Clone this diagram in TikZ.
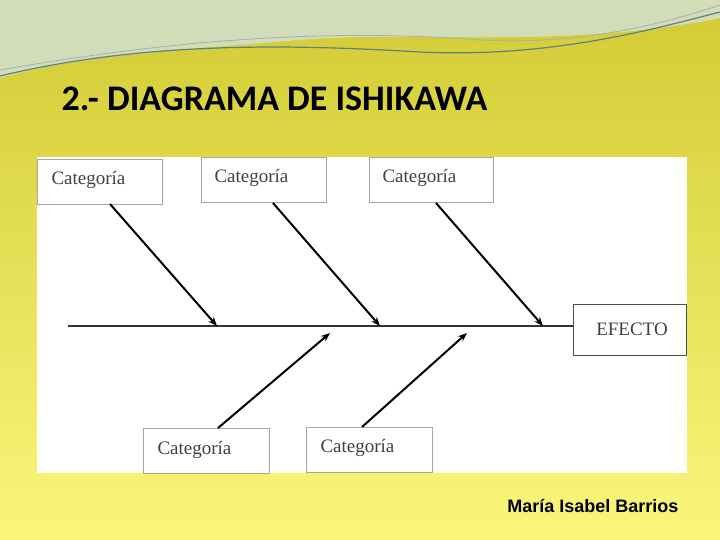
\documentclass[tikz,border=0pt]{standalone}
\usepackage{fontspec}
\setmainfont{Liberation Serif}
\newfontfamily\titlefont{Carlito}
\newfontfamily\signfont{Liberation Sans}
\usetikzlibrary{arrows.meta}
\definecolor{bgtop}{HTML}{D2CB34}
\definecolor{bgbot}{HTML}{FAF67C}
\definecolor{band}{HTML}{D3DCB8}
\definecolor{wave}{HTML}{5E7F86}
\tikzset{
  catbox/.style={draw=gray!70,line width=1pt,fill=white,anchor=north west,
    inner sep=0pt,minimum height=45pt},
  cattext/.style={anchor=west,text=black!75,font=\fontsize{19}{22}\selectfont},
  bone/.style={line width=2pt,-{Stealth[length=9pt,width=7pt]}}
}
\begin{document}
\begin{tikzpicture}[x=1pt,y=-1pt]
  \useasboundingbox (0,0) rectangle (720,540);
  % background
  \shade[top color=bgtop,bottom color=bgbot] (0,0) rectangle (720,540);
  \fill[band] (0,0) -- (720,0) -- (720,18) .. controls (560,50) and (420,30) .. (300,40)
     .. controls (180,50) and (80,55) .. (0,78) -- cycle;
  \draw[wave,line width=1.2pt] (0,76) .. controls (150,40) and (300,45) .. (420,52)
     .. controls (550,58) and (650,30) .. (720,12);
  \draw[wave!60,line width=0.8pt] (0,70) .. controls (200,35) and (350,30) .. (480,40)
     .. controls (580,45) and (660,25) .. (720,5);
  \node[anchor=west,font=\titlefont\bfseries\fontsize{36}{40}\selectfont] (title) at (58,99) {2.- DIAGRAMA DE ISHIKAWA};
  \node[anchor=east,font=\signfont\bfseries\fontsize{18}{20}\selectfont] (sign) at (682,506) {María Isabel Barrios};
  % diagram panel
  \fill[white] (37,157) rectangle (687,473);
  \node[catbox,minimum width=125pt] (c1) at (37,159) {};
  \node[cattext] at (48,180) {Categoría};
  \node[catbox,minimum width=125pt] (c2) at (201,157) {};
  \node[cattext] at (211,178) {Categoría};
  \node[catbox,minimum width=124pt] (c3) at (369,157) {};
  \node[cattext] at (379,178) {Categoría};
  \node[catbox,minimum width=126pt] (c4) at (143,428) {};
  \node[cattext] at (154,450) {Categoría};
  \node[catbox,minimum width=126pt] (c5) at (306,427) {};
  \node[cattext] at (317,448) {Categoría};
  \node[catbox,minimum width=113pt,minimum height=51pt,draw=black!70] (efecto) at (573,304) {};
  \node[text=black!75,font=\fontsize{19}{22}\selectfont] at (632,329) {EFECTO};
  % spine and bones
  \coordinate (s0) at (68,326);
  \draw[line width=2pt,black!80] (s0) -- (s0 -| efecto.west);
  \coordinate (b1) at (217,326);
  \coordinate (b2) at (380,326);
  \coordinate (b3) at (543,326);
  \coordinate (b4) at (330,333);
  \coordinate (b5) at (467,333);
  \draw[bone] (110,204) -- (b1);
  \draw[bone] (273,203) -- (b2);
  \draw[bone] (436,203) -- (b3);
  \draw[bone] (218,428) -- (b4);
  \draw[bone] (362,427) -- (b5);
\end{tikzpicture}
\end{document}
